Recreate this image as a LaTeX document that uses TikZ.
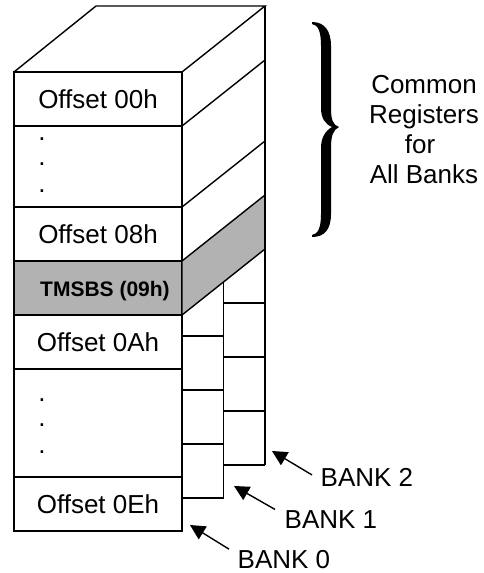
\documentclass[tikz,border=0pt]{standalone}
\usepackage{fontspec}
\setmainfont{Liberation Sans}
\usetikzlibrary{arrows.meta,positioning}

\begin{document}
\begin{tikzpicture}[
        x=1pt, y=-1pt,
        line width=1.4pt,
        regrow/.style={draw, minimum width=168pt, inner sep=0pt, outer sep=0pt, font=\fontsize{26pt}{30pt}\selectfont},
        selband/.style={fill=black!30},
        dotmark/.style={anchor=base, inner sep=0pt, font=\fontsize{26pt}{30pt}\selectfont},
        banklabel/.style={anchor=base west, inner sep=0pt, font=\fontsize{26pt}{30pt}\selectfont},
        bankarrow/.style={-{Triangle[length=15pt, width=15pt]}, line width=1.4pt}
    ]
    \useasboundingbox (0,0) rectangle (483,573);

    % === Front column (BANK 0) ===
    \node[regrow, minimum height=54pt] (r00) at (98,99) {Offset 00h};
    \node[regrow, minimum height=81pt] (rdA) at (98,166.5) {};
    \node[regrow, minimum height=54pt] (r08) at (98,234) {Offset 08h};
    \node[regrow, minimum height=54pt, selband] (rTM) at (98,288) {};
    \node[regrow, minimum height=54pt] (r0A) at (98,342) {Offset 0Ah};
    \node[regrow, minimum height=108pt] (rdB) at (98,423) {};
    \node[regrow, minimum height=54pt] (r0E) at (98,504) {Offset 0Eh};
    \node[font=\bfseries\fontsize{21pt}{24pt}\selectfont] (tTM) at (105,291) {TMSBS (09h)};

    \foreach \y in {140,165,192,401,426,453}
        \node[dotmark] (dot\y) at (42,\y) {.};

    % === Top face and right side ===
    \draw (r00.north west) -- ++(82,-66) -- ++(169,0) -- (r00.north east);
    \filldraw[selband] (rTM.north east) -- ++(83,-66) -- ++(0,54) -- (rTM.south east) -- cycle;
    \draw (r00.south east) -- ++(83,-66);
    \draw (r08.north east) -- ++(83,-66);
    \draw (265,6) -- (265,465);

    % === BANK 1 and BANK 2 behind ===
    \foreach \k in {1,...,4}
        \draw (182,282+54*\k) -- ++(41.5,0);
    \draw (223.5,282) -- (223.5,498);
    \foreach \k in {1,...,4}
        \draw (223.5,249+54*\k) -- ++(41.5,0);

    \coordinate (tip2) at (272,451);
    \coordinate (tip1) at (234,486);
    \coordinate (tip0) at (190,525);

    \node[banklabel] (bank2) at (320,486) {BANK 2};
    \node[banklabel] (bank1) at (284,528) {BANK 1};
    \node[banklabel] (bank0) at (237,568) {BANK 0};
    \draw[bankarrow] ([xshift=-8pt, yshift=2pt]bank2.west) -- (tip2);
    \draw[bankarrow] ([xshift=-9pt]bank1.north west) -- (tip1);
    \draw[bankarrow] ([xshift=-8pt]bank0.north west) -- (tip0);

    % === Brace for the common part ===
    \fill (312,22) .. controls (324,22) and (331,30) .. (331,46)
        -- (331,108) .. controls (331,120) and (333,125) .. (339,127)
        .. controls (333,130) and (331,136) .. (331,148)
        -- (331,214) .. controls (331,230) and (324,237) .. (312,237)
        -- (312,235) .. controls (318,234) and (321,228) .. (321,214)
        -- (321,148) .. controls (321,138) and (325,131) .. (332,127)
        .. controls (325,124) and (321,118) .. (321,108)
        -- (321,46) .. controls (321,31) and (318,25) .. (312,24) -- cycle;
    \node[font=\fontsize{26pt}{30pt}\selectfont, align=center] (common) at (424,130) {Common\\Registers\\for\kern8pt\\All Banks};
\end{tikzpicture}
\end{document}
